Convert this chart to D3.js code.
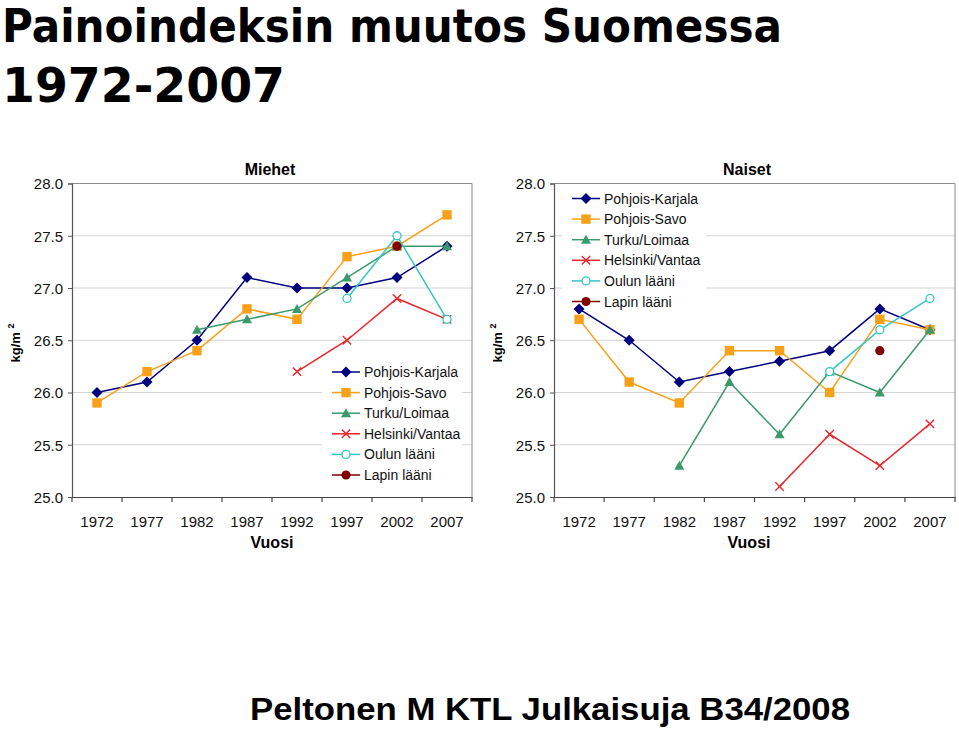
<!DOCTYPE html>
<html><head><meta charset="utf-8">
<script src="https://cdn.jsdelivr.net/npm/d3@7"></script>
<style>
html,body{margin:0;padding:0;background:#fff;}
svg{display:block;}
</style></head>
<body>
<svg id="c" width="959" height="730"></svg>
<script>
// ---- data ----
const years = ["1972","1977","1982","1987","1992","1997","2002","2007"];
const yTicks = [25.0, 25.5, 26.0, 26.5, 27.0, 27.5, 28.0];
const seriesNames = ["Pohjois-Karjala","Pohjois-Savo","Turku/Loimaa","Helsinki/Vantaa","Oulun lääni","Lapin lääni"];
const seriesColors = ["#00007f","#f7a11a","#3a9a6b","#e8262b","#33c6c6","#7f0000"];
const seriesMarkers = ["diamond","square","triangle","x","circleOpen","circle"];

const menPK = [26.0, 26.1, 26.5, 27.1, 27.0, 27.0, 27.1, 27.4];
const menPS = [25.9, 26.2, 26.4, 26.8, 26.7, 27.3, 27.4, 27.7];
const menTL = [null, null, 26.6, 26.7, 26.8, 27.1, 27.4, 27.4];
const menHV = [null, null, null, null, 26.2, 26.5, 26.9, 26.7];
const menOL = [null, null, null, null, null, 26.9, 27.5, 26.7];
const menLL = [null, null, null, null, null, null, 27.4, null];

const womenPK = [26.8, 26.5, 26.1, 26.2, 26.3, 26.4, 26.8, 26.6];
const womenPS = [26.7, 26.1, 25.9, 26.4, 26.4, 26.0, 26.7, 26.6];
const womenTL = [null, null, 25.3, 26.1, 25.6, 26.2, 26.0, 26.6];
const womenHV = [null, null, null, null, 25.1, 25.6, 25.3, 25.7];
const womenOL = [null, null, null, null, null, 26.2, 26.6, 26.9];
const womenLL = [null, null, null, null, null, null, 26.4, null];

const svg = d3.select("#c");
const FONT = "'Liberation Sans', Arial, sans-serif";

// ---- titles ----
const tFont = "'Comic Sans MS','DejaVu Sans',sans-serif";
svg.append("text").attr("x", 2).attr("y", 42).attr("font-family", tFont)
  .attr("font-weight", "bold").attr("font-size", 46).attr("textLength", 780)
  .attr("lengthAdjust", "spacingAndGlyphs").text("Painoindeksin muutos Suomessa");
svg.append("text").attr("x", 2).attr("y", 102).attr("font-family", tFont)
  .attr("font-weight", "bold").attr("font-size", 48).attr("textLength", 283)
  .attr("lengthAdjust", "spacingAndGlyphs").text("1972-2007");
svg.append("text").attr("x", 250).attr("y", 720).attr("font-family", FONT)
  .attr("font-weight", "bold").attr("font-size", 32).attr("textLength", 600)
  .attr("lengthAdjust", "spacingAndGlyphs").text("Peltonen M KTL Julkaisuja B34/2008");

function markerPath(type) {
  switch (type) {
    case "diamond": { const r = 5.5; return `M0,${-r}L${r},0L0,${r}L${-r},0Z`; }
    case "square": { const r = 4.7; return `M${-r},${-r}H${r}V${r}H${-r}Z`; }
    case "triangle": { const r = 5; return `M0,${-r}L${r},${r*0.8}L${-r},${r*0.8}Z`; }
    case "x": { const r = 4.2; return `M${-r},${-r}L${r},${r}M${r},${-r}L${-r},${r}`; }
    case "circleOpen": { return d3.symbol(d3.symbolCircle, Math.PI*4*4)(); }
    case "circle": { return d3.symbol(d3.symbolCircle, Math.PI*4.6*4.6)(); }
  }
}
function styleMarker(sel, i) {
  const t = seriesMarkers[i], c = seriesColors[i];
  sel.attr("d", markerPath(t));
  if (t === "x") sel.attr("fill", "none").attr("stroke", c).attr("stroke-width", 1.4);
  else if (t === "circleOpen") sel.attr("fill", "#fff").attr("stroke", c).attr("stroke-width", 1.3);
  else sel.attr("fill", c).attr("stroke", "none");
}

function drawChart(cfg) {
  const x = d3.scaleBand().domain(years).range([cfg.left, cfg.right]);
  const y = d3.scaleLinear().domain([25, 28]).range([497, 183.5]);
  const g = svg.append("g");

  // gridlines
  g.selectAll("line.grid").data(yTicks.filter(v => v > 25 && v < 28)).join("line")
    .attr("x1", cfg.left).attr("x2", cfg.right)
    .attr("y1", d => y(d)).attr("y2", d => y(d))
    .attr("stroke", "#d4d4d4").attr("stroke-width", 1);
  // plot border top & right
  g.append("path").attr("d", `M${cfg.left},${y(28)}H${cfg.right}V${y(25)}`)
    .attr("fill", "none").attr("stroke", "#8c8c8c").attr("stroke-width", 1);

  // legend box background
  g.append("rect").attr("x", cfg.legX - 10).attr("y", cfg.legY - 13)
    .attr("width", cfg.legW).attr("height", 20.6*6 + 6).attr("fill", "#fff");

  // y axis
  const ya = d3.axisLeft(y).tickValues(yTicks).tickFormat(d3.format(".1f")).tickSize(4).tickPadding(5);
  const yg = g.append("g").attr("transform", `translate(${cfg.left},0)`).call(ya);
  yg.select(".domain").attr("stroke", "#555").attr("stroke-width", 1.2);
  yg.selectAll(".tick line").attr("stroke", "#555");
  yg.selectAll(".tick text").attr("font-family", FONT).attr("font-size", 15).attr("fill", "#111").attr("dy", "0.36em");

  // x axis
  const xa = d3.axisBottom(x).tickSize(0).tickPadding(19);
  const xg = g.append("g").attr("transform", `translate(0,${y(25)})`).call(xa);
  xg.select(".domain").attr("stroke", "#444").attr("stroke-width", 1.2);
  xg.selectAll(".tick text").attr("font-family", FONT).attr("font-size", 15).attr("fill", "#111");
  // boundary ticks
  const bounds = years.map(d => x(d)).concat([x(years[years.length-1]) + x.bandwidth()]);
  g.selectAll("line.xt").data(bounds).join("line")
    .attr("x1", d => d).attr("x2", d => d).attr("y1", y(25)).attr("y2", y(25) + 5)
    .attr("stroke", "#444").attr("stroke-width", 1.2);

  // titles
  g.append("text").attr("x", cfg.titleX).attr("y", 175).attr("text-anchor", "middle")
    .attr("font-family", FONT).attr("font-weight", "bold").attr("font-size", 16).text(cfg.title);
  g.append("text").attr("x", cfg.titleX + 2).attr("y", 548).attr("text-anchor", "middle")
    .attr("font-family", FONT).attr("font-weight", "bold").attr("font-size", 16).text("Vuosi");
  const yl = g.append("text").attr("transform", `translate(${cfg.ylX},343) rotate(-90)`)
    .attr("text-anchor", "middle").attr("font-family", FONT).attr("font-weight", "bold").attr("font-size", 13);
  yl.append("tspan").text("kg/m ");
  yl.append("tspan").attr("font-size", 9).attr("dy", -6).text(" 2");

  // series
  const cx = d => x(d) + x.bandwidth()/2;
  const line = d3.line().defined(d => d.v != null).x(d => cx(d.year)).y(d => y(d.v));
  cfg.series.forEach((vals, i) => {
    const pts = years.map((yr, j) => ({year: yr, v: vals[j]}));
    g.append("path").datum(pts).attr("d", line).attr("fill", "none")
      .attr("stroke", seriesColors[i]).attr("stroke-width", 1.5);
    g.selectAll(null).data(pts.filter(d => d.v != null)).join("path")
      .attr("transform", d => `translate(${cx(d.year)},${y(d.v)})`)
      .call(s => styleMarker(s, i));
  });

  // legend
  seriesNames.forEach((name, i) => {
    const ly = cfg.legY + i*20.6;
    g.append("line").attr("x1", cfg.legX).attr("x2", cfg.legX + 28).attr("y1", ly).attr("y2", ly)
      .attr("stroke", seriesColors[i]).attr("stroke-width", 1.5);
    g.append("path").attr("transform", `translate(${cfg.legX + 14},${ly})`).call(s => styleMarker(s, i));
    g.append("text").attr("x", cfg.legX + 32).attr("y", ly + 5).attr("font-family", FONT)
      .attr("font-size", 14).attr("fill", "#111").text(name);
  });
}

drawChart({left: 72, right: 472, title: "Miehet", titleX: 270, ylX: 20,
  legX: 332, legY: 372, legW: 140,
  series: [menPK, menPS, menTL, menHV, menOL, menLL]});
drawChart({left: 554, right: 955, title: "Naiset", titleX: 747, ylX: 502,
  legX: 572, legY: 198.5, legW: 144,
  series: [womenPK, womenPS, womenTL, womenHV, womenOL, womenLL]});
</script>
</body></html>
